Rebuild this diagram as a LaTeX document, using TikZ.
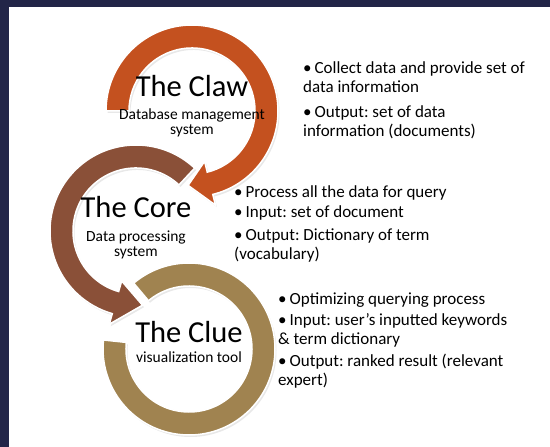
\documentclass[tikz,border=0pt]{standalone}
\usepackage{fontspec}
\setmainfont{Carlito}
\usetikzlibrary{shadows}
\frenchspacing
\definecolor{framenavy}{RGB}{34,37,72}
\definecolor{clawred}{RGB}{196,81,31}
\definecolor{corebrown}{RGB}{138,80,56}
\definecolor{cluetan}{RGB}{160,131,80}
\newcommand{\dotitem}{\textbullet\hspace{3pt}}

\begin{document}
\begin{tikzpicture}[x=1pt,y=1pt,
  title/.style={inner sep=0, font=\fontsize{30.5}{34}\selectfont},
  subtitle/.style={inner sep=0, align=center, font=\fontsize{15.5}{15.5}\selectfont},
  point/.style={inner sep=0, align=left, font=\fontsize{17}{19}\selectfont},
  ring/.style={draw=white, line width=1.5pt,
    drop shadow={opacity=.18, shadow xshift=1.5pt, shadow yshift=-2pt}}]
\fill[framenavy] (0,0) rectangle (550,447);
\fill[white] (9,0) rectangle (550,440);
\coordinate (claw) at (192,336);
\coordinate (core) at (136,216);
\coordinate (clue) at (189,98);
% clue ring first, core arrow over it, claw arrow on top
\begin{scope}[shift={(clue)}]
\fill[cluetan, ring] (130:86pt) arc[start angle=130, end angle=-186, radius=86pt]
  -- (-186:63pt) arc[start angle=-186, end angle=130, radius=63pt] -- cycle;
\end{scope}
\begin{scope}[shift={(core)}]
\fill[corebrown, ring] (47:86pt) arc[start angle=47, end angle=254, radius=86pt]
  -- (254:97pt) -- (275:74.5pt) -- (254:52pt)
  -- (254:63pt) arc[start angle=254, end angle=47, radius=63pt] -- cycle;
\end{scope}
\begin{scope}[shift={(claw)}]
\fill[clawred, ring] (180:86pt) arc[start angle=180, end angle=-76, radius=86pt]
  -- (-76:97pt) -- (-93:74.5pt) -- (-76:52pt)
  -- (-76:63pt) arc[start angle=-76, end angle=180, radius=63pt] -- cycle;
\end{scope}
% names in the rings (base = last line of a node)
\node[title, anchor=base] (clawname) at ([yshift=14pt]claw) {The Claw};
\node[subtitle, anchor=base] (clawrole) at ([yshift=-24pt]claw) {Database management\\system};
\node[title, anchor=base] (corename) at ([yshift=13pt]core) {The Core};
\node[subtitle, anchor=base] (corerole) at ([yshift=-26pt]core) {Data processing\\system};
\node[title, anchor=base] (cluename) at ([yshift=6pt]clue) {The Clue};
\node[subtitle, anchor=base] (cluerole) at ([yshift=-14pt]clue) {visualization tool};
% bullet points
\node[point, anchor=base west] (clawin) at (303,354) {\dotitem Collect data and provide set of\\data information};
\node[point, anchor=base west] (clawout) at (303,310) {\dotitem Output: set of data\\information (documents)};
\node[point, anchor=base west] (coredo) at (234,249) {\dotitem Process all the data for query};
\node[point, anchor=base west] (corein) at (234,229) {\dotitem Input: set of document};
\node[point, anchor=base west] (coreout) at (234,187) {\dotitem Output: Dictionary of term\\(vocabulary)};
\node[point, anchor=base west] (cluedo) at (278,142) {\dotitem Optimizing querying process};
\node[point, anchor=base west] (cluein) at (278,102) {\dotitem Input: user’s inputted keywords\\\& term dictionary};
\node[point, anchor=base west] (clueout) at (278,61) {\dotitem Output: ranked result (relevant\\expert)};
\end{tikzpicture}
\end{document}
